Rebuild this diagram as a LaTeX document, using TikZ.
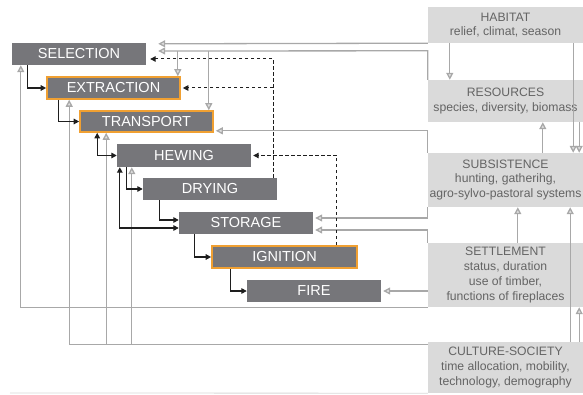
\documentclass[tikz,border=0pt]{standalone}
\usepackage{fontspec}
\setmainfont{Liberation Sans}
\usetikzlibrary{arrows.meta,calc}
\definecolor{dk}{RGB}{118,118,122}
\definecolor{org}{RGB}{240,160,50}
\definecolor{lb}{RGB}{218,218,218}
\definecolor{lt}{RGB}{100,100,100}
\definecolor{lg}{RGB}{168,168,168}
\definecolor{bk}{RGB}{30,30,30}
\begin{document}
\begin{tikzpicture}[x=1pt,y=-1pt,
  dbox/.style={fill=dk, text=white, inner sep=0pt, font=\fontsize{14.5}{14.5}\selectfont},
  obox/.style={dbox, draw=org, line width=1.6pt},
  lbox/.style={fill=lb, text=lt, inner sep=0pt, align=center, minimum width=155pt, font=\fontsize{12.2}{14.8}\selectfont},
  garr/.style={draw=lg, line width=1.3pt, -{Triangle[length=7pt,width=7pt,fill=lg!35]}},
  barr/.style={draw=bk, line width=1.3pt, -{Triangle[length=5.5pt,width=5.5pt]}},
  bbarr/.style={draw=bk, line width=1.3pt, {Triangle[length=5.5pt,width=5.5pt]}-{Triangle[length=5.5pt,width=5.5pt]}},
  darr/.style={draw=bk, line width=1pt, dash pattern=on 3.5pt off 2.5pt, -{Triangle[length=5.5pt,width=5.5pt]}}]
\useasboundingbox (0,0) rectangle (583,395);

% right column
\node[lbox, minimum height=36pt] (hab) at (505.5,25) {HABITAT\\relief, climat, season};
\node[lbox, minimum height=42pt] (res) at (505.5,101) {RESOURCES\\species, diversity, biomass};
\node[lbox, minimum height=54pt] (sub) at (505.5,180) {SUBSISTENCE\\hunting, gatherihg,\\agro-sylvo-pastoral systems};
\node[lbox, minimum height=64pt] (set) at (505.5,275) {SETTLEMENT\\status, duration\\use of timber,\\functions of fireplaces};
\node[lbox, minimum height=51pt] (cul) at (505.5,367.5) {CULTURE-SOCIETY\\time allocation, mobility,\\technology, demography};

% chain
\node[dbox, minimum width=134pt, minimum height=22pt] (sel) at (79,54) {SELECTION};
\node[obox, minimum width=133pt, minimum height=22pt] (ext) at (113.5,88) {EXTRACTION};
\node[obox, minimum width=133pt, minimum height=21pt] (tra) at (146.5,121.5) {TRANSPORT};
\node[dbox, minimum width=134pt, minimum height=23pt] (hew) at (184,155.5) {HEWING};
\node[dbox, minimum width=134pt, minimum height=22pt] (dry) at (210,189) {DRYING};
\node[dbox, minimum width=134pt, minimum height=22pt] (sto) at (246,223) {STORAGE};
\node[obox, minimum width=145pt, minimum height=22pt] (ign) at (284.5,257) {IGNITION};
\node[dbox, minimum width=134pt, minimum height=22pt] (fire) at (314,291) {FIRE};

% bottom rule
\draw[lg!45, line width=0.8pt] (10,393) -- (cul.south west);

% gray connectors from the right column
\draw[garr] (hab.south west) -- ($(sel.north east)+(12,1)$);
\coordinate (rl) at ($(res.north west)+(0,-29)$);
\draw[garr] (res.north west) -- (rl) -- ($(sel.east)+(12,-3)$);
\coordinate (e1) at ($(ext.north east)+(-3,0)$);
\coordinate (t1) at ($(tra.north east)+(-5,0)$);
\draw[garr] (e1 |- rl) -- (e1);
\draw[garr] (t1 |- rl) -- (t1);
\draw[garr] (sub.north west) |- ($(tra.south east)+(2,-2)$);
\draw[garr] (sub.south west) |- ($(sto.east)+(2,-5)$);
\draw[garr] (set.north west) |- ($(sto.east)+(2,7)$);
\draw[garr] (set.west |- fire.east) -- ($(fire.east)+(2,0)$);
\draw[garr] (set.south west) -| ($(sel.south west)+(9,0)$);
\coordinate (cy) at ($(cul.north west)+(0,3)$);
\coordinate (tb) at ($(tra.south west)+(27,0)$);
\coordinate (hb) at ($(hew.south west)+(15,0)$);
\draw[garr] (cy) -| ($(ext.south west)+(23,0)$);
\draw[garr] (tb |- cy) -- (tb);
\draw[garr] (hb |- cy) -- (hb);

% gray connectors inside the right column
\draw[garr] ($(hab.south west)+(22,0)$) -- ($(res.north west)+(22,0)$);
\draw[garr] ($(hab.south east)+(-10,0)$) -- ($(sub.north east)+(-10,0)$);
\draw[garr] ($(res.south east)+(-4,0)$) -- ($(sub.north east)+(-4,0)$);
\draw[garr] ($(sub.north west)+(115,0)$) -- ($(res.south west)+(115,0)$);
\draw[garr] ($(set.north west)+(90,0)$) -- ($(sub.south west)+(90,0)$);
\draw[garr] ($(cul.north east)+(-13,0)$) -- ($(sub.south east)+(-13,0)$);
\draw[garr] ($(cul.north east)+(-4,0)$) -- ($(set.south east)+(-4,0)$);

% black chain connectors
\draw[barr] ($(sel.south west)+(16,0)$) |- (ext.west);
\draw[barr] ($(ext.south west)+(12,0)$) |- (tra.west);
\draw[bbarr] ($(tra.south west)+(18,0)$) |- (hew.west);
\draw[bbarr] ($(hew.south west)+(3,0)$) |- ($(sto.west)+(0,5)$);
\draw[barr] ($(hew.south west)+(10,0)$) |- (dry.west);
\draw[barr] ($(dry.south west)+(17,0)$) |- ($(sto.west)+(0,-3)$);
\draw[barr] ($(sto.south west)+(16,0)$) |- (ign.west);
\draw[barr] ($(ign.south west)+(19,0)$) |- (fire.west);

% dashed feedback
\coordinate (dA) at ($(dry.north east)+(-4,0)$);
\draw[darr] (dA) |- ($(sel.east)+(4,5)$);
\draw[darr] (dA |- ext.east) -- ($(ext.east)+(2,0)$);
\draw[darr] ($(ign.north east)+(-21,0)$) |- ($(hew.east)+(2,0)$);
\end{tikzpicture}
\end{document}
